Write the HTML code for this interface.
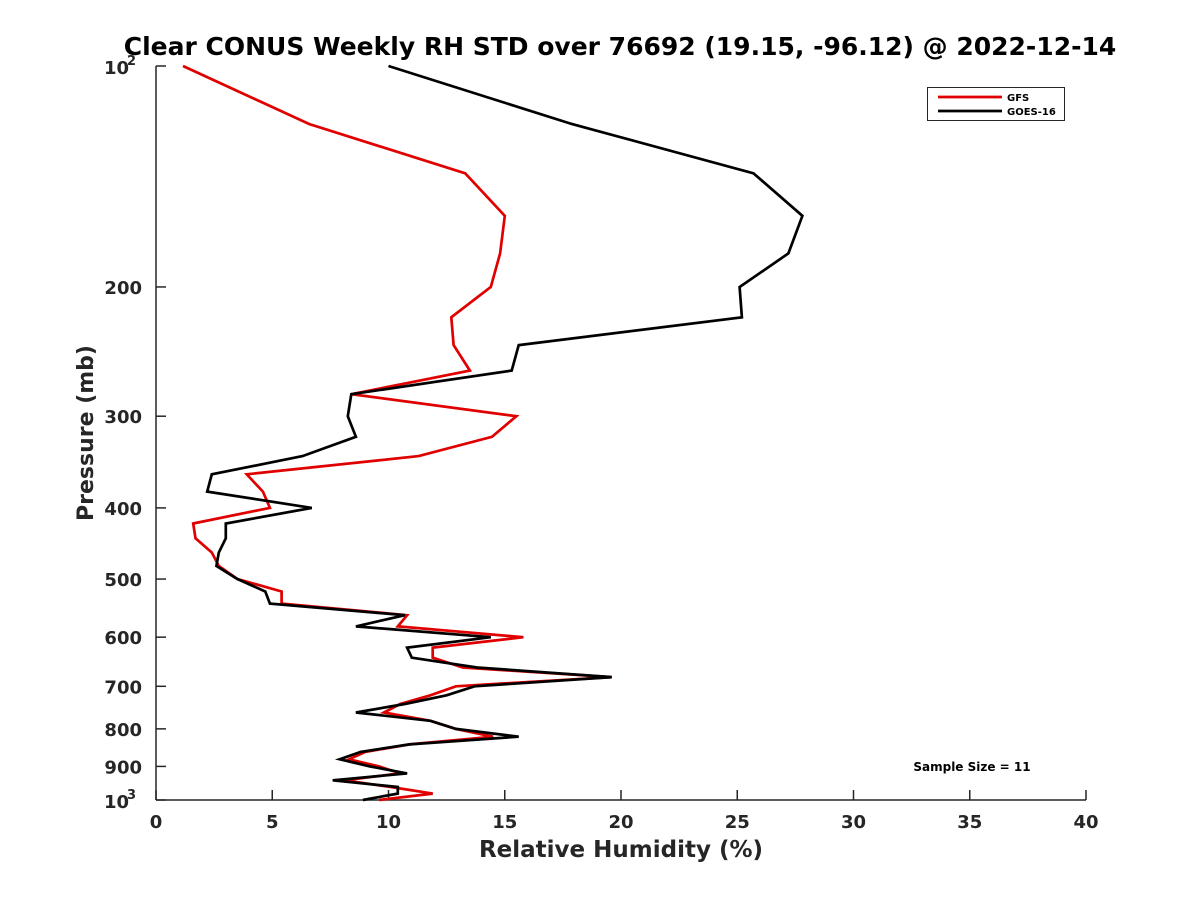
<!DOCTYPE html>
<html><head><meta charset="utf-8"><style>
body{margin:0;background:#fff;}
svg{display:block;font-family:"DejaVu Sans","Liberation Sans",sans-serif;font-weight:bold;}
</style></head><body>
<svg id="chart" width="1200" height="900" viewBox="0 0 1200 900" xmlns="http://www.w3.org/2000/svg">
<rect width="1200" height="900" fill="#fff"/>
<text x="620" y="55" text-anchor="middle" font-size="25" fill="#000">Clear CONUS Weekly RH STD over 76692 (19.15, -96.12) @ 2022-12-14</text>
<g id="axes"></g>
<g id="series"></g>
<g>
<rect x="927.5" y="87.5" width="137" height="33" fill="#fff" stroke="#262626" stroke-width="1"/>
<line x1="938" y1="97" x2="1002" y2="97" stroke="#e00000" stroke-width="2.7"/>
<text x="1007" y="101" font-size="10" fill="#000">GFS</text>
<line x1="938" y1="111" x2="1002" y2="111" stroke="#000" stroke-width="2.7"/>
<text x="1007" y="115" font-size="10" fill="#000">GOES-16</text>
</g>
<text x="972" y="771" text-anchor="middle" font-size="12" fill="#000">Sample Size = 11</text>
<text x="621" y="857" text-anchor="middle" font-size="23" fill="#262626">Relative Humidity (%)</text>
<text transform="translate(93,433) rotate(-90)" text-anchor="middle" font-size="22" fill="#262626">Pressure (mb)</text>
</svg>
<script>
const pressures=[100,120,140,160,180,200,220,240,260,280,300,320,340,360,380,400,420,440,460,480,500,520,540,560,580,600,620,640,660,680,700,720,740,760,780,800,820,840,860,880,900,920,940,960,980,1000];
const gfsValues=[1.16,6.6,13.3,15.0,14.8,14.4,12.7,12.8,13.5,8.4,15.5,14.45,11.3,3.9,4.6,4.9,1.6,1.7,2.4,2.7,3.5,5.4,5.4,10.8,10.4,15.8,11.9,11.9,13.2,19.6,12.9,11.8,10.5,9.8,11.8,12.9,14.5,10.9,9.0,8.3,9.6,10.5,8.1,10.1,11.9,9.6];
const goesValues=[10.0,17.9,25.7,27.8,27.2,25.1,25.2,15.6,15.3,8.4,8.25,8.6,6.3,2.4,2.2,6.7,3.0,3.0,2.7,2.6,3.5,4.7,4.9,10.7,8.6,14.4,10.8,11.0,13.8,19.6,13.7,12.5,10.7,8.6,11.8,12.9,15.6,10.9,8.8,7.9,9.2,10.8,7.6,10.4,10.4,8.9];
const xTicks=[0,5,10,15,20,25,30,35,40];
const yTicks=[200,300,400,500,600,700,800,900];

const NS='http://www.w3.org/2000/svg';
const X0=156,X1=1086,Y0=66,Y1=800;
function xs(v){return X0+(v-0)/(40-0)*(X1-X0);}
function ys(p){return Y0+Math.log10(p/100)*(Y1-Y0);}
function mk(tag,attrs,parent){const e=document.createElementNS(NS,tag);for(const k in attrs)e.setAttribute(k,attrs[k]);parent.appendChild(e);return e;}
const axes=document.getElementById('axes');
let e=mk('line',{x1:X0,y1:Y0,x2:X0,y2:Y1,stroke:'#262626','stroke-width':1.5},axes);


e=mk('line',{x1:X0,y1:Y1,x2:X1,y2:Y1,stroke:'#262626','stroke-width':1.5},axes);


xTicks.forEach(t=>{
  const x=xs(t);
  let l=mk('line',{x1:x,y1:Y1,x2:x,y2:Y1-10,stroke:'#262626','stroke-width':1.5},axes);
  
  
  let tx=mk('text',{x:x,y:828,'text-anchor':'middle','font-size':18,fill:'#262626'},axes);
  tx.textContent=t;
  
  
});
[100].concat(yTicks).concat([1000]).forEach(p=>{
  const y=ys(p);
  let l=mk('line',{x1:X0,y1:y,x2:X0+10,y2:y,stroke:'#262626','stroke-width':1.5},axes);
  
  
});
yTicks.forEach(p=>{
  const y=ys(p);
  let tx=mk('text',{x:142,y:y+7,'text-anchor':'end','font-size':18,fill:'#262626'},axes);
  tx.textContent=p;
  
  
});
[[100,'2'],[1000,'3']].forEach(([p,s])=>{
  const y=ys(p);
  let tx=mk('text',{x:104,y:y+8,'font-size':18,fill:'#262626'},axes);
  tx.textContent='10';
  
  
  let sp=mk('text',{x:127,y:y-1,'font-size':13,fill:'#262626'},axes);
  sp.textContent=s;
  
  
});
const series=document.getElementById('series');
function line(vals,color,name){
  const pts=vals.map((v,i)=>xs(v).toFixed(1)+','+ys(pressures[i]).toFixed(1)).join(' ');
  const pl=mk('polyline',{points:pts,fill:'none',stroke:color,'stroke-width':2.7,'stroke-linejoin':'miter'},series);
  
  
}
line(gfsValues,'#e00000','gfs-line');
line(goesValues,'#000000','goes16-line');
</script>
</body></html>
